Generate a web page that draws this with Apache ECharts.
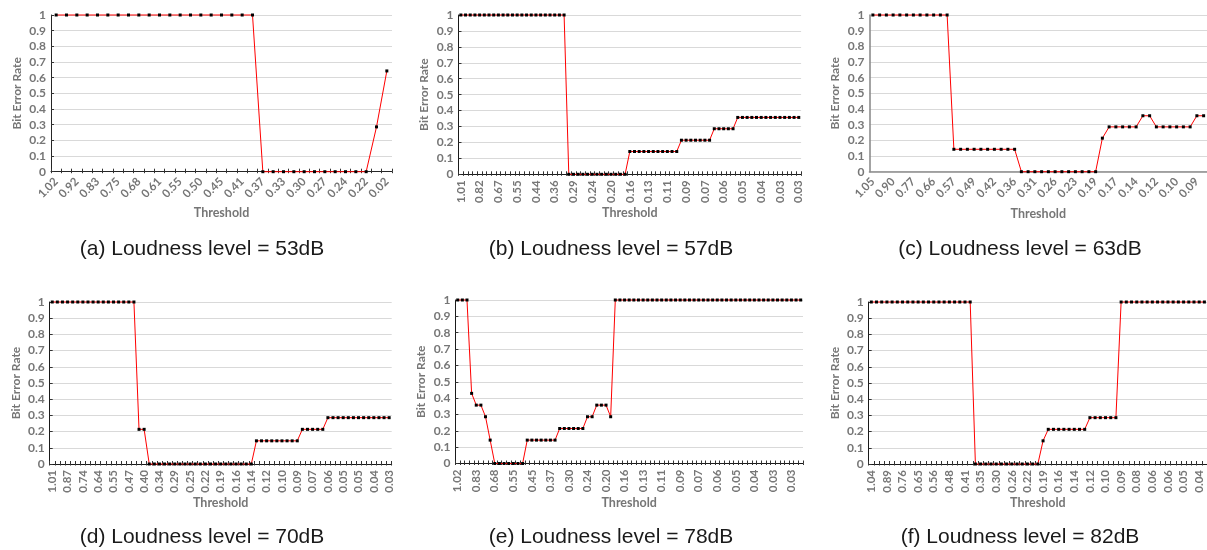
<!DOCTYPE html>
<html><head><meta charset="utf-8">
<script src="https://cdn.jsdelivr.net/npm/echarts@6/dist/echarts.min.js"></script>
<style>html,body{margin:0;padding:0;background:#fff}#c{width:1207px;height:550px}</style>
</head><body><div id="c"></div>
<script>
// ---------- data ----------
const captions = ['(a) Loudness level = 53dB','(b) Loudness level = 57dB','(c) Loudness level = 63dB',
                  '(d) Loudness level = 70dB','(e) Loudness level = 78dB','(f) Loudness level = 82dB'];
const xName = 'Threshold';
const yName = 'Bit Error Rate';

const labelsA = ['1.02','0.92','0.83','0.75','0.68','0.61','0.55','0.50','0.45','0.41','0.37','0.33','0.30','0.27','0.24','0.22','0.02'];
const valuesA = [1,1,1,1,1,1,1,1,1,1, 1,1,1,1,1,1,1,1,1,1,
                 0,0,0,0,0,0,0,0,0,0, 0,0.286,0.643];

const labelsB = ['1.01','0.82','0.67','0.55','0.44','0.36','0.29','0.24','0.20','0.16','0.13','0.11','0.09','0.07','0.06','0.05','0.04','0.03','0.03'];
const valuesB = [1,1,1,1,1,1,1,1,1,1, 1,1,1,1,1,1,1,1,1,1, 1,1,1,
                 0,0,0,0,0,0,0,0,0,0, 0,0,0,
                 0.143,0.143,0.143,0.143,0.143,0.143,0.143,0.143,0.143,0.143,0.143,
                 0.214,0.214,0.214,0.214,0.214,0.214,0.214,
                 0.286,0.286,0.286,0.286,0.286,
                 0.357,0.357,0.357,0.357,0.357,0.357,0.357,0.357,0.357,0.357,0.357,0.357,0.357,0.357];

const labelsC = ['1.05','0.90','0.77','0.66','0.57','0.49','0.42','0.36','0.31','0.26','0.23','0.19','0.17','0.14','0.12','0.10','0.09'];
const valuesC = [1,1,1,1,1,1,1,1,1,1,1,1,
                 0.143,0.143,0.143,0.143,0.143,0.143,0.143,0.143,0.143,0.143,
                 0,0,0,0,0,0,0,0,0,0,0,0,
                 0.214,
                 0.286,0.286,0.286,0.286,0.286,
                 0.357,0.357,
                 0.286,0.286,0.286,0.286,0.286,0.286,
                 0.357,0.357];

const labelsD = ['1.01','0.87','0.74','0.64','0.55','0.47','0.40','0.34','0.29','0.25','0.22','0.19','0.16','0.14','0.12','0.10','0.09','0.07','0.06','0.05','0.05','0.04','0.03'];
const valuesD = [1,1,1,1,1,1,1,1,1,1,1,1,1,1,1,1,1,
                 0.214,0.214,
                 0,0,0,0,0,0,0,0,0,0,0,0,0,0,0,0,0,0,0,0,0,
                 0.143,0.143,0.143,0.143,0.143,0.143,0.143,0.143,0.143,
                 0.214,0.214,0.214,0.214,0.214,
                 0.286,0.286,0.286,0.286,0.286,0.286,0.286,0.286,0.286,0.286,0.286,0.286,0.286];

const labelsE = ['1.02','0.83','0.68','0.55','0.45','0.37','0.30','0.24','0.20','0.16','0.13','0.11','0.09','0.07','0.06','0.05','0.04','0.03','0.03'];
const valuesE = [1,1,1, 0.429, 0.357,0.357, 0.286, 0.143,
                 0,0,0,0,0,0,0,
                 0.143,0.143,0.143,0.143,0.143,0.143,0.143,
                 0.214,0.214,0.214,0.214,0.214,0.214,
                 0.286,0.286,
                 0.357,0.357,0.357,
                 0.286,
                 1,1,1,1,1,1,1,1,1,1, 1,1,1,1,1,1,1,1,1,1, 1,1,1,1,1,1,1,1,1,1, 1,1,1,1,1,1,1,1,1,1, 1];

const labelsF = ['1.04','0.89','0.76','0.65','0.56','0.48','0.41','0.35','0.30','0.26','0.22','0.19','0.16','0.14','0.12','0.10','0.09','0.08','0.06','0.06','0.05','0.04'];
const valuesF = [1,1,1,1,1,1,1,1,1,1, 1,1,1,1,1,1,1,1,1,1,
                 0,0,0,0,0,0,0,0,0,0,0,0,0,
                 0.143,
                 0.214,0.214,0.214,0.214,0.214,0.214,0.214,0.214,
                 0.286,0.286,0.286,0.286,0.286,0.286,
                 1,1,1,1,1,1,1,1,1,1, 1,1,1,1,1,1,1];

// ---------- layout / style ----------
const panels = [
  {labels: labelsA, values: valuesA, step: 2, rotate: 45, left: 51,    top: 15,  width: 341,   height: 156.7, xGap: 35, xMargin: 8, ticks: true,  axisColor: '#262626', axisWidth: 1, cap: [202, 249]},
  {labels: labelsB, values: valuesB, step: 4, rotate: 90, left: 458.5, top: 15,  width: 342.6, height: 159.3, xGap: 31, xMargin: 6, ticks: true,  axisColor: '#1a1a1a', axisWidth: 1, cap: [611, 249]},
  {labels: labelsC, values: valuesC, step: 3, rotate: 45, left: 869.5, top: 15,  width: 341,   height: 156.7, xGap: 36, xMargin: 8, ticks: false, axisColor: '#8c8c8c', axisWidth: 1.6, cap: [1020, 249]},
  {labels: labelsD, values: valuesD, step: 3, rotate: 90, left: 49.7,  top: 302, width: 342,   height: 162,   xGap: 32, xMargin: 6, ticks: true,  axisColor: '#1a1a1a', axisWidth: 1, cap: [202, 537]},
  {labels: labelsE, values: valuesE, step: 4, rotate: 90, left: 455.4, top: 300, width: 347.6, height: 163.5, xGap: 31, xMargin: 6, ticks: true,  axisColor: '#1a1a1a', axisWidth: 1, cap: [611, 537]},
  {labels: labelsF, values: valuesF, step: 3, rotate: 90, left: 868.7, top: 302, width: 340.6, height: 162,   xGap: 32, xMargin: 6, ticks: true,  axisColor: '#1a1a1a', axisWidth: 1, cap: [1020, 537]}
];

const FONT = 'Lato, "Open Sans", sans-serif';
const GRAY = '#767676';

const grid = [], xAxis = [], yAxis = [], series = [], graphic = [];
panels.forEach((p, i) => {
  const cats = p.values.map((_, k) => (k % p.step === 0 && p.labels[k / p.step] !== undefined) ? p.labels[k / p.step] : '');
  grid.push({left: p.left, top: p.top, width: p.width, height: p.height, containLabel: false});
  xAxis.push({
    type: 'category', gridIndex: i, data: cats, boundaryGap: true, position: 'bottom',
    axisLine: {show: true, onZero: false, lineStyle: {color: p.axisColor, width: p.axisWidth}},
    axisTick: {show: p.ticks, interval: 0, inside: true, length: 3, lineStyle: {color: '#333', width: 1}},
    axisLabel: {interval: 0, rotate: p.rotate, margin: p.xMargin, color: GRAY, fontWeight: 'bold', fontSize: 11.5, fontFamily: FONT},
    splitLine: {show: false},
    name: xName, nameLocation: 'middle', nameGap: p.xGap,
    nameTextStyle: {color: GRAY, fontWeight: 'bold', fontSize: 12.5, fontFamily: FONT}
  });
  // second axis only to draw the outside part of the crossing tick marks
  xAxis.push({
    type: 'category', gridIndex: i, data: cats, boundaryGap: true, position: 'bottom',
    axisLine: {show: false, onZero: false},
    axisTick: {show: p.ticks, interval: 0, inside: false, length: 1.5, lineStyle: {color: '#333', width: 1}},
    axisLabel: {show: false}, splitLine: {show: false}
  });
  yAxis.push({
    type: 'value', gridIndex: i, min: 0, max: 1, interval: 0.1,
    axisLine: {show: true, lineStyle: {color: p.axisColor, width: p.axisWidth}},
    axisTick: {show: p.ticks, inside: true, length: 3, lineStyle: {color: '#333'}},
    axisLabel: {margin: 5, color: GRAY, fontWeight: 'bold', fontSize: 12, fontFamily: FONT,
                formatter: v => String(+v.toFixed(1))},
    splitLine: {show: true, lineStyle: {color: '#d9d9d9', width: 1}},
    name: yName, nameLocation: 'middle', nameGap: 28,
    nameTextStyle: {color: GRAY, fontWeight: 'bold', fontSize: 12, fontFamily: FONT}
  });
  series.push({
    type: 'line', xAxisIndex: i * 2, yAxisIndex: i, data: p.values,
    symbol: 'rect', symbolSize: 3, showAllSymbol: true,
    lineStyle: {color: '#ff0000', width: 1}, itemStyle: {color: '#000'},
    animation: false, silent: true, clip: false
  });
  graphic.push({
    type: 'text', x: p.cap[0], y: p.cap[1],
    style: {text: captions[i], fill: '#1a1a1a', font: '21px "Liberation Sans", Arial, sans-serif',
            textAlign: 'center', textVerticalAlign: 'middle'}
  });
});

const chart = echarts.init(document.getElementById('c'), null, {renderer: 'canvas'});
chart.setOption({animation: false, backgroundColor: '#fff', grid, xAxis, yAxis, series, graphic});
</script></body></html>
